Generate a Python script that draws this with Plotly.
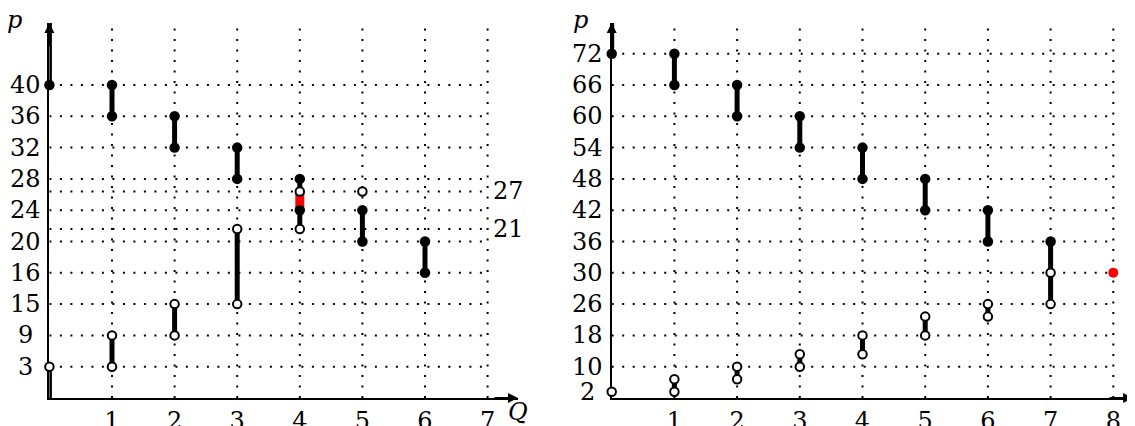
import plotly.graph_objects as go

# ------------------------------------------------------------------ data
INF = "inf"   # vertical segment running up to the top of the axis

# Left panel
L_TICK_P = [3, 9, 15, 16, 20, 24, 28, 32, 36, 40]
L_SIDE_P = [27, 21]
L_Q_TICKS = [1, 2, 3, 4, 5, 6, 7]
L_SEG_Q = [0, 0, 1, 1, 2, 2, 3, 3, 4, 5, 6]
L_SEG_LO = [40, 0, 36, 3, 32, 9, 28, 15, 21, 20, 16]
L_SEG_HI = [INF, 3, 40, 9, 36, 15, 32, 21, 28, 24, 20]
L_FILL_Q = [0, 1, 1, 2, 2, 3, 3, 4, 4, 5, 5, 6, 6]
L_FILL_P = [40, 40, 36, 36, 32, 32, 28, 28, 24, 24, 20, 20, 16]
L_OPEN_Q = [0, 1, 1, 2, 2, 3, 3, 4, 4, 5]
L_OPEN_P = [3, 3, 9, 9, 15, 15, 21, 21, 27, 27]
L_RED_Q = [4]
L_RED_LO = [24]
L_RED_HI = [27]

# Right panel
R_TICK_P = [2, 10, 18, 26, 30, 36, 42, 48, 54, 60, 66, 72]
R_GRID_P = [10, 18, 26, 30, 36, 42, 48, 54, 60, 66, 72]
R_Q_TICKS = [1, 2, 3, 4, 5, 6, 7, 8]
R_SEG_Q = [0, 1, 1, 2, 2, 3, 3, 4, 4, 5, 5, 6, 6, 7]
R_SEG_LO = [72, 66, 2, 60, 6, 54, 10, 48, 14, 42, 18, 36, 22, 26]
R_SEG_HI = [INF, 72, 6, 66, 10, 60, 14, 54, 18, 48, 22, 42, 26, 36]
R_FILL_Q = [0, 1, 1, 2, 2, 3, 3, 4, 4, 5, 5, 6, 6, 7]
R_FILL_P = [72, 72, 66, 66, 60, 60, 54, 54, 48, 48, 42, 42, 36, 36]
R_OPEN_Q = [0, 1, 1, 2, 2, 3, 3, 4, 4, 5, 5, 6, 6, 7, 7]
R_OPEN_P = [2, 2, 6, 6, 10, 10, 14, 14, 18, 18, 22, 22, 26, 26, 30]
R_RED_Q = [8]
R_RED_P = [30]

# ------------------------------------------------- ordinal price scales
# (the price axis is not linear: labelled prices sit on equally spaced rows)
OFF = 8                      # page body margin in the browser
W, H = 1135 - OFF, 426 - OFF  # figure size
Y0_PX, UY, TOP_PX = 398.0 - OFF, 31.3, 23.0 - OFF
TOP = (Y0_PX - TOP_PX) / UY

L_SCALE = {0: 0, 3: 1, 9: 2, 15: 3, 16: 4, 20: 5, 21: 5.4, 24: 6, 27: 6.6,
           28: 7, 32: 8, 36: 9, 40: 10, INF: TOP}
R_SCALE = {0: 0, 2: 0.2, 6: 0.6, 10: 1, 14: 1.4, 18: 2, 22: 2.6, 26: 3, 30: 4,
           36: 5, 42: 6, 48: 7, 54: 8, 60: 9, 66: 10, 72: 11, INF: TOP}

X0L, UXL, XENDL = 49.4 - OFF, 62.6, 518.0 - OFF
X0R, UXR, XENDR = 611.7 - OFF, 62.7, 1135.0 - OFF

FONT = dict(family="DejaVu Serif", size=24, color="black")
DOT = "2px,8.5px"

fig = go.Figure()


def seg_trace(qs, los, his, scale, xa, ya, color="black", width=5):
    xs, ys = [], []
    for q, lo, hi in zip(qs, los, his):
        xs += [q, q, None]
        ys += [scale[lo], scale[hi], None]
    return go.Scatter(x=xs, y=ys, mode="lines", xaxis=xa, yaxis=ya,
                      line=dict(color=color, width=width), cliponaxis=False,
                      hoverinfo="skip", showlegend=False)


def pts(qs, ps, scale, xa, ya, open_=False, color="black", size=10.5):
    if open_:
        m = dict(size=8.5, color="white", line=dict(color="black", width=2))
    else:
        m = dict(size=size, color=color, line=dict(width=0))
    return go.Scatter(x=qs, y=[scale[p] for p in ps], mode="markers",
                      xaxis=xa, yaxis=ya, marker=m, cliponaxis=False,
                      hoverinfo="skip", showlegend=False)


shapes, annos = [], []


def panel(xref, yref, scale, grid_p, q_ticks, x_end_q, tick_p, label_cx):
    for p in grid_p:
        shapes.append(dict(type="line", xref=xref, yref=yref, x0=0, x1=x_end_q,
                           y0=scale[p], y1=scale[p], layer="below",
                           line=dict(color="black", width=2, dash=DOT)))
    for q in q_ticks:
        shapes.append(dict(type="line", xref=xref, yref=yref, x0=q, x1=q,
                           y0=0, y1=TOP, layer="below",
                           line=dict(color="black", width=2, dash=DOT)))
    for p in tick_p:
        annos.append(dict(xref="paper", yref=yref, x=(label_cx - OFF) / W,
                          y=scale[p], text=str(p), showarrow=False,
                          xanchor="center", yanchor="middle", height=24,
                          valign="middle", font=FONT))


panel("x", "y", L_SCALE, L_TICK_P + L_SIDE_P, L_Q_TICKS, 7, L_TICK_P, 25.5)
panel("x2", "y2", R_SCALE, R_GRID_P, R_Q_TICKS, 8, R_TICK_P, 587.5)

# side labels 27 / 21
for p in L_SIDE_P:
    annos.append(dict(xref="x", yref="y", x=7, y=L_SCALE[p], text=str(p),
                      showarrow=False, xanchor="left", yanchor="middle",
                      height=24, valign="middle", xshift=3, font=FONT))

# axis arrows
rngL = (XENDL - X0L) / UXL
rngR = (XENDR - X0R) / UXR
for xr, yr, xe in (("x", "y", rngL), ("x2", "y2", rngR - 0.03)):
    annos.append(dict(xref=xr, yref=yr, axref=xr, ayref=yr, x=0, y=TOP,
                      ax=0, ay=TOP - 0.8, text="", showarrow=True,
                      arrowhead=2, arrowsize=1, arrowwidth=2,
                      arrowcolor="black"))
    annos.append(dict(xref=xr, yref=yr, axref=xr, ayref=yr, x=xe, y=0,
                      ax=xe - 0.4, ay=0, text="", showarrow=True,
                      arrowhead=2, arrowsize=1, arrowwidth=2,
                      arrowcolor="black"))

# axis titles
for cx, cy, txt in ((15, 20, "<i>p</i>"), (580, 20, "<i>p</i>"),
                    (518, 412, "<i>Q</i>")):
    annos.append(dict(xref="paper", yref="paper", x=(cx - OFF) / W,
                      y=(H - (cy - OFF)) / H, text=txt, showarrow=False,
                      xanchor="center", yanchor="middle", font=FONT))

# traces: segments, red overlay, markers
fig.add_trace(seg_trace(L_SEG_Q, L_SEG_LO, L_SEG_HI, L_SCALE, "x", "y"))
fig.add_trace(seg_trace(L_RED_Q, L_RED_LO, L_RED_HI, L_SCALE, "x", "y",
                        color="#ff0000", width=9))
fig.add_trace(pts(L_FILL_Q, L_FILL_P, L_SCALE, "x", "y"))
fig.add_trace(pts(L_OPEN_Q, L_OPEN_P, L_SCALE, "x", "y", open_=True))

fig.add_trace(seg_trace(R_SEG_Q, R_SEG_LO, R_SEG_HI, R_SCALE, "x2", "y2"))
fig.add_trace(pts(R_FILL_Q, R_FILL_P, R_SCALE, "x2", "y2"))
fig.add_trace(pts(R_OPEN_Q, R_OPEN_P, R_SCALE, "x2", "y2", open_=True))
fig.add_trace(pts(R_RED_Q, R_RED_P, R_SCALE, "x2", "y2", color="#ff0000",
                  size=10))

ydom = [(H - Y0_PX) / H, (H - TOP_PX) / H]
xcommon = dict(showgrid=False, zeroline=False, showline=True,
               linecolor="black", linewidth=2, ticks="", tickfont=FONT,
               layer="below traces", ticklabelstandoff=0, automargin=False)
ycommon = dict(showgrid=False, zeroline=False, showline=True,
               linecolor="black", linewidth=2, showticklabels=False,
               ticks="", layer="below traces", range=[0, TOP], domain=ydom,
               automargin=False)

fig.update_layout(
    width=W, height=H, margin=dict(l=0, r=0, t=0, b=0, autoexpand=False),
    paper_bgcolor="white", plot_bgcolor="white", showlegend=False,
    xaxis=dict(xcommon, domain=[X0L / W, XENDL / W], range=[0, rngL],
               tickvals=L_Q_TICKS, ticktext=[str(q) for q in L_Q_TICKS],
               anchor="y"),
    yaxis=dict(ycommon, anchor="x"),
    xaxis2=dict(xcommon, domain=[X0R / W, 1.0], range=[0, rngR],
                tickvals=R_Q_TICKS, ticktext=[str(q) for q in R_Q_TICKS],
                anchor="y2"),
    yaxis2=dict(ycommon, anchor="x2"),
    shapes=shapes, annotations=annos,
)

fig.write_html("out.html")
